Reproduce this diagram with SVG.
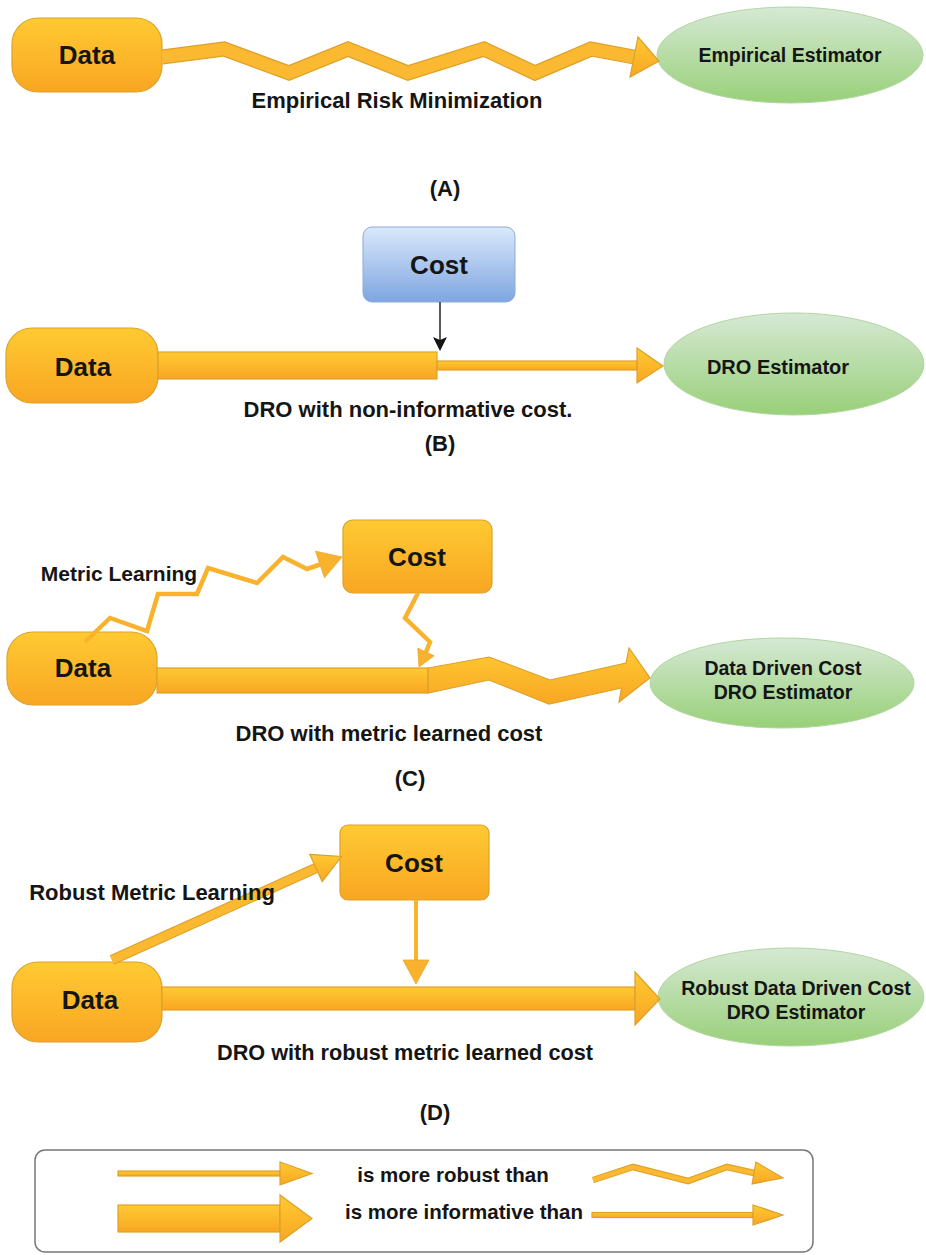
<svg xmlns="http://www.w3.org/2000/svg" width="926" height="1255" viewBox="0 0 926 1255">
<defs>
<linearGradient id="gO" x1="0" y1="0" x2="0" y2="1"><stop offset="0" stop-color="#FFCA32"/><stop offset="1" stop-color="#F9A623"/></linearGradient>
<linearGradient id="gG" x1="0" y1="0" x2="0" y2="1"><stop offset="0" stop-color="#D6E9D4"/><stop offset="1" stop-color="#98D078"/></linearGradient>
<linearGradient id="gB" x1="0" y1="0" x2="0" y2="1"><stop offset="0" stop-color="#DAE8FC"/><stop offset="1" stop-color="#7EA6E0"/></linearGradient>
</defs>
<style>
.t{font-family:"Liberation Sans",Arial,Helvetica,sans-serif;font-weight:bold;fill:#151515;text-anchor:middle}
.on{fill:url(#gO);stroke:#DDA22C;stroke-width:1.2}
.gn{fill:url(#gG);stroke:#B3D5A3;stroke-width:1}
.bn{fill:url(#gB);stroke:#8CABD8;stroke-width:1}
.af{fill:url(#gO);stroke:#DDA12A;stroke-width:1.2;stroke-linejoin:miter}
.zo{fill:none;stroke:#DDA12A;stroke-linejoin:miter}
.zi{fill:none;stroke:#FBB831;stroke-linejoin:miter}
.ln{fill:none;stroke:#F8B22E;stroke-linejoin:miter}
.hd{fill:#F8B22E;stroke:#E8A82A;stroke-width:0.8}
</style>
<rect width="926" height="1255" fill="#ffffff"/>

<!-- Section A -->
<g id="a-data"><rect class="on" x="12" y="18" width="150" height="74" rx="26"/><text class="t" x="87" y="64" font-size="26">Data</text></g>
<g id="a-estimator"><ellipse class="gn" cx="790" cy="55" rx="133" ry="48"/><text class="t" x="790" y="62" font-size="19.5">Empirical Estimator</text></g>

<!-- Section B -->
<g id="b-cost"><rect class="bn" x="363" y="227" width="152" height="75" rx="9"/><text class="t" x="439" y="274" font-size="26">Cost</text></g>
<g id="b-data"><rect class="on" x="6" y="328" width="152" height="75" rx="26"/><text class="t" x="83" y="376" font-size="26">Data</text></g>
<g id="b-estimator"><ellipse class="gn" cx="794" cy="364" rx="130" ry="51"/><text class="t" x="778" y="374" font-size="20">DRO Estimator</text></g>

<!-- Section C -->
<g id="c-cost"><rect class="on" x="343" y="520" width="149" height="73" rx="10"/><text class="t" x="417" y="566" font-size="26">Cost</text></g>
<g id="c-data"><rect class="on" x="7" y="632" width="150" height="73" rx="26"/><text class="t" x="83" y="677" font-size="26">Data</text></g>
<g id="c-estimator"><ellipse class="gn" cx="782" cy="683" rx="132" ry="45"/><text class="t" x="783" y="675" font-size="19.5">Data Driven Cost</text><text class="t" x="783" y="699" font-size="19.5">DRO Estimator</text></g>

<!-- Section D -->
<g id="d-cost"><rect class="on" x="340" y="825" width="149" height="75" rx="8"/><text class="t" x="414" y="872" font-size="26">Cost</text></g>
<g id="d-data"><rect class="on" x="12" y="962" width="150" height="80" rx="26"/><text class="t" x="90" y="1009" font-size="26">Data</text></g>
<g id="d-estimator"><ellipse class="gn" cx="791" cy="997" rx="133" ry="49"/><text class="t" x="796" y="995" font-size="19.5">Robust Data Driven Cost</text><text class="t" x="796" y="1019" font-size="19.5">DRO Estimator</text></g>

<g id="connectors">
  <!-- A -->
  <polyline class="zo" stroke-width="15" points="162,57 224,49 289,73 348,49 408,73 484,49 535,73 591,49 634,57"/>
  <polyline class="zi" stroke-width="12.5" points="162,57 224,49 289,73 348,49 408,73 484,49 535,73 591,49 634,57"/>
  <polygon class="af" points="638,37 659,61 630,77"/>
  <!-- B -->
  <rect class="af" x="158" y="352" width="279" height="27"/>
  <rect class="af" x="437" y="361" width="200" height="9"/>
  <polygon class="af" points="637,348 663,366 637,383"/>
  <line x1="440" y1="302" x2="440" y2="341" stroke="#151515" stroke-width="1.4"/>
  <polygon points="433,337 440,351 447,337 440,340" fill="#151515"/>
  <!-- C -->
  <rect class="af" x="157" y="668" width="271" height="25"/>
  <polygon class="af" points="428,668 489,657 550,680 626,663 629,648 650,678 619,702 621.5,688 549,704 489,680 428,693"/>
  <polyline class="ln" stroke-width="4.5" points="85,642 110,618 147,631 158,594 197,594 208,568 257,583 283,557 307,569 320,564.5"/>
  <polygon class="hd" points="315.5,551.2 342,557 324.5,577.8"/>
  <polyline class="ln" stroke-width="4.5" points="418,593 405,618 430,642 426,652"/>
  <polygon class="hd" points="417.8,648.2 419,667 434.2,655.8"/>
  <!-- D -->
  <rect class="af" x="162" y="987" width="473" height="23"/>
  <polygon class="af" points="635,972 660,999 635,1025"/>
  <line class="zo" stroke-width="10.5" x1="112" y1="960" x2="316" y2="868"/>
  <line class="zi" stroke-width="8.5" x1="112" y1="960" x2="316" y2="868"/>
  <polygon class="af" points="309.8,854.3 341.5,856.5 322.2,881.7"/>
  <line class="ln" stroke-width="4" x1="416" y1="900" x2="416" y2="961"/>
  <polygon class="hd" points="403,960 429,960 416,984"/>
</g>

<g id="labels">
  <text class="t" x="397" y="108" font-size="22">Empirical Risk Minimization</text>
  <text class="t" x="445" y="196" font-size="22">(A)</text>
  <text class="t" x="408" y="417" font-size="22">DRO with non-informative cost.</text>
  <text class="t" x="440" y="451" font-size="22">(B)</text>
  <text class="t" x="119" y="581" font-size="21">Metric Learning</text>
  <text class="t" x="389" y="741" font-size="22">DRO with metric learned cost</text>
  <text class="t" x="410" y="786" font-size="22">(C)</text>
  <text class="t" x="152" y="900" font-size="22">Robust Metric Learning</text>
  <text class="t" x="405" y="1060" font-size="21.7">DRO with robust metric learned cost</text>
  <text class="t" x="435" y="1120" font-size="22">(D)</text>
</g>

<g id="legend">
  <rect x="35" y="1150" width="778" height="102" rx="10" fill="#ffffff" stroke="#777777" stroke-width="1.5"/>
  <rect class="af" x="118" y="1171" width="162" height="5"/>
  <polygon class="af" points="280,1162 312,1173.5 280,1185"/>
  <rect class="af" x="118" y="1205" width="162" height="27"/>
  <polygon class="af" points="280,1195 312,1218.5 280,1242"/>
  <text class="t" x="453" y="1182" font-size="20.5">is more robust than</text>
  <text class="t" x="464" y="1219" font-size="20.5">is more informative than</text>
  <polyline class="zo" stroke-width="6.5" points="593,1180 633,1167 688,1181 727,1167 754,1173"/>
  <polyline class="zi" stroke-width="4.5" points="593,1180 633,1167 688,1181 727,1167 754,1173"/>
  <polygon class="af" points="755.9,1162.1 783,1178 752.1,1183.9"/>
  <rect class="af" x="592" y="1212.5" width="161" height="5"/>
  <polygon class="af" points="753,1205 783,1215 753,1225"/>
</g>
</svg>
